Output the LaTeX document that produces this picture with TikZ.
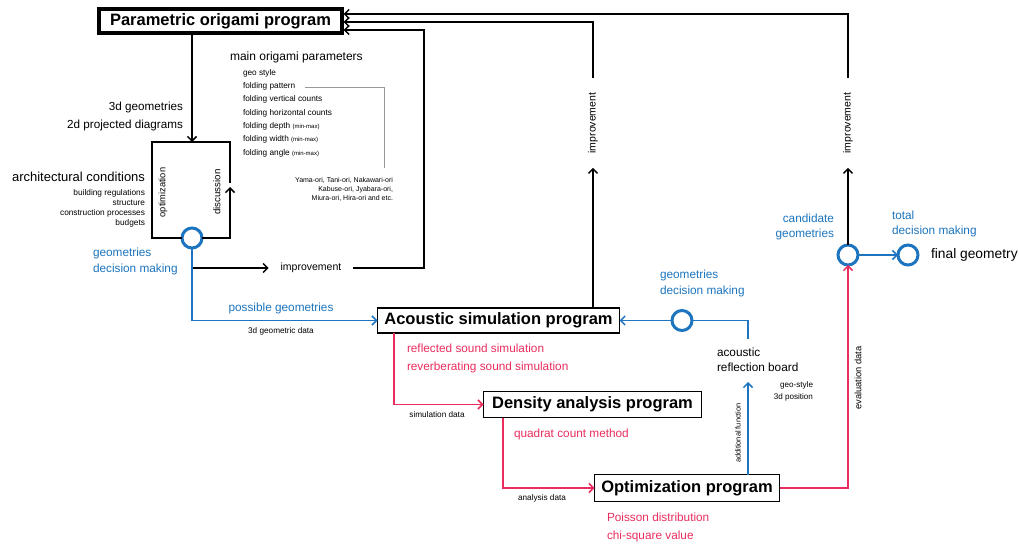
\documentclass[tikz,border=0pt]{standalone}
\usepackage{fontspec}
\setmainfont{Liberation Sans}
\usetikzlibrary{arrows.meta,calc}
\definecolor{cblue}{RGB}{28,117,190}
\definecolor{cred}{RGB}{234,45,94}
\begin{document}
\begin{tikzpicture}[x=1pt,y=-1pt,
  every node/.style={inner sep=0pt, outer sep=0pt},
  prog/.style={draw=black, line width=1.8pt, fill=white, font=\fontsize{16.5}{18}\selectfont\bfseries},
  ln/.style={line width=1.5pt},
  arr/.style={line width=1.5pt, -{Straight Barb[length=4.5pt,width=9pt]}},
  circ/.style={circle, draw=cblue, line width=3pt, minimum size=20pt},
  lbl/.style={font=\fontsize{11.8}{16}\selectfont},
  sml/.style={font=\fontsize{8.2}{10}\selectfont},
  rot/.style={font=\fontsize{10.5}{12}\selectfont, inner ysep=14.5pt},
]
\fill[white] (0,0) rectangle (1019,543);
\useasboundingbox (0,0) rectangle (1019,543);

% program boxes
\node[prog, line width=3.8pt, minimum width=243pt, minimum height=24pt] (pop) at (220.5,21) {Parametric origami program};
\node[prog, minimum width=242pt, minimum height=25pt] (asp) at (498.5,320.5) {Acoustic simulation program};
\node[prog, minimum width=218pt, minimum height=26pt] (dap) at (592.5,404.5) {Density analysis program};
\node[prog, minimum width=185pt, minimum height=27pt] (opt) at (687,488) {Optimization program};

% decision circles
\node[circ] (c1) at (192,238) {};
\node[circ] (c2) at (682,320.5) {};
\node[circ] (c3) at (848,255) {};
\node[circ] (c4) at (908,255) {};

% left box (optimization / discussion)
\coordinate (bxBL) at (152,238);
\coordinate (bxTL) at (152,142);
\coordinate (bxTR) at (230,142);
\coordinate (bxMR) at (230,183);
\coordinate (bxAR) at (230,187);
\draw[ln] (c1.west) -- (bxBL) -- (bxTL) -- (bxTR) -- (bxMR);
\draw[arr] (c1.east) -- (bxAR |- c1) -- (bxAR);
\node[font=\fontsize{9.3}{11}\selectfont] (optz) at (163,192.5) {\rotatebox{90}{optimization}};
\node[font=\fontsize{9.7}{11}\selectfont] (disc) at (217,192) {\rotatebox{90}{discussion}};
\draw[arr] (pop.south -| c1) -- (c1 |- bxTL);

% texts upper left
\node[lbl, anchor=east, align=right, font=\fontsize{11.7}{18}\selectfont] (geo3d) at (183,116) {3d geometries\\2d projected diagrams};
\node[anchor=west, font=\fontsize{12}{14}\selectfont] (mop) at (230,57) {main origami parameters};
\node[anchor=west, align=left, font=\fontsize{8.25}{13.33}\selectfont] (plist) at (243,113)
  {geo style\\folding pattern\\folding vertical counts\\folding horizontal counts\\folding depth {\fontsize{6}{13.33}\selectfont(min-max)}\\folding width {\fontsize{6}{13.33}\selectfont(min-max)}\\folding angle {\fontsize{6}{13.33}\selectfont(min-max)}};
\coordinate (gp1) at (305,87);
\coordinate (gp2) at (384,87);
\coordinate (gp3) at (384,168);
\draw[black!40, line width=0.8pt] (gp1) -- (gp2) -- (gp3);
\node[anchor=east, align=right, font=\fontsize{7}{9.3}\selectfont] (oritypes) at (393,189.5)
  {Yama-ori, Tani-ori, Nakawari-ori\\Kabuse-ori, Jyabara-ori,\\Miura-ori, Hira-ori and etc.};
\node[anchor=east, font=\fontsize{13}{15}\selectfont] (archc) at (145,177) {architectural conditions};
\node[anchor=east, align=right, font=\fontsize{8.3}{10}\selectfont] (archl) at (145,208.5)
  {building regulations\\structure\\construction processes\\budgets};

% blue labels left
\node[lbl, cblue, anchor=west, align=left] (gdm1) at (93,261) {geometries\\decision making};
\node[lbl, cblue] (poss) at (281,308) {possible geometries};
\node[sml] (g3d) at (281,331) {3d geometric data};

% improvement loop (horizontal)
\coordinate (brk) at (192,268);
\coordinate (r1) at (424,30);
\node[font=\fontsize{10.5}{12}\selectfont, inner xsep=12pt] (impH) at (311,268) {improvement};
\draw[arr] (brk) -- (impH.west);
\draw[arr, shorten >=1.5pt] (impH.east) -- (impH.east -| r1) -- (r1) -- (pop.east |- r1);

% blue to acoustic
\draw[arr, cblue] (c1.south) -- (c1 |- asp.west) -- (asp.west);

% improvement loops (vertical)
\coordinate (r2) at (593,22);
\coordinate (r3) at (848,14);
\node[rot] (imp2) at (593,123) {\rotatebox{90}{improvement}};
\node[rot] (imp3) at (848,123) {\rotatebox{90}{improvement}};
\draw[arr] (imp2 |- asp.north) -- (imp2.south);
\draw[arr, shorten >=1.5pt] (imp2.north) -- (r2) -- (pop.east |- r2);
\draw[arr] (c3.north) -- (imp3.south);
\draw[arr, shorten >=1.5pt] (imp3.north) -- (r3) -- (pop.east |- r3);

% red flow
\coordinate (xa) at (394,0);
\coordinate (xd) at (503,0);
\draw[arr, cred] (asp.south -| xa) -- (xa |- dap.west) -- (dap.west);
\draw[arr, cred] (dap.south -| xd) -- (xd |- opt.west) -- (opt.west);
\draw[arr, cred] (opt.east) -- (opt.east -| c3) -- (c3.south);
\node[lbl, cred, anchor=west, align=left, font=\fontsize{11.8}{18}\selectfont] (rss) at (407,358) {reflected sound simulation\\reverberating sound simulation};
\node[lbl, cred, anchor=west] (qcm) at (514,434) {quadrat count method};
\node[lbl, cred, anchor=west, align=left, font=\fontsize{11.8}{18}\selectfont] (pds) at (607,527) {Poisson distribution\\chi-square value};
\node[sml] (simd) at (437,415) {simulation data};
\node[sml] (anad) at (542,498) {analysis data};
\node[font=\fontsize{9.3}{11}\selectfont] (evd) at (858,378) {\rotatebox{90}{evaluation data}};

% acoustic reflection board
\node[lbl, anchor=west, align=left, font=\fontsize{11.8}{14.5}\selectfont] (arb) at (717,360) {acoustic\\reflection board};
\node[anchor=east, align=right, font=\fontsize{8.1}{12}\selectfont] (geost) at (813,391) {geo-style\\3d position};
\node[font=\fontsize{7.4}{9}\selectfont] (addf) at (738,433) {\rotatebox{90}{additional function}};
\coordinate (xb) at (748,382);
\coordinate (xt) at (748,339);
\draw[arr, cblue] (opt.north -| xb) -- (xb);
\draw[ln, cblue] (xt) -- (xt |- c2) -- (c2.east);
\draw[arr, cblue] (c2.west) -- (asp.east |- c2);
\node[lbl, cblue, anchor=west, align=left] (gdm2) at (660,283) {geometries\\decision making};

% final decision
\draw[arr, cblue] (c3.east) -- (c4.west);
\node[lbl, cblue, anchor=east, align=right, font=\fontsize{11.8}{14.5}\selectfont] (cand) at (834,227) {candidate\\geometries};
\node[lbl, cblue, anchor=west, align=left, font=\fontsize{11.8}{14.5}\selectfont] (tdm) at (892,224) {total\\decision making};
\node[anchor=west, font=\fontsize{13.8}{16}\selectfont] (fg) at (931,255) {final geometry};
\end{tikzpicture}
\end{document}
